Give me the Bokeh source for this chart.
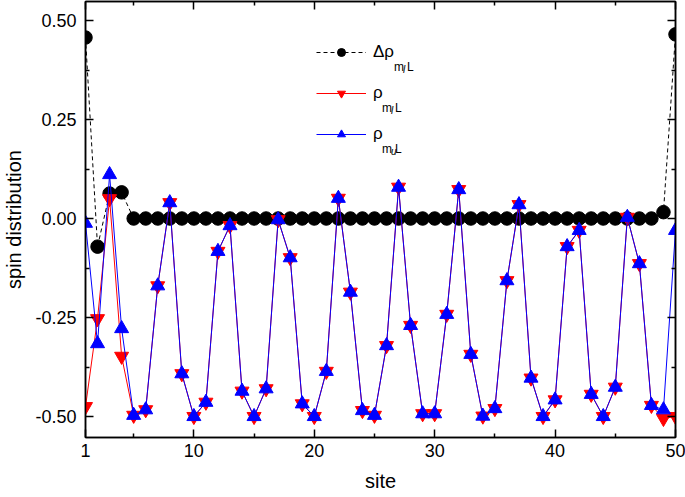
from bokeh.plotting import figure
from bokeh.models import (Range1d, LinearAxis, FixedTicker, Legend, LegendItem, Label)
from bokeh.embed import file_html
from bokeh.resources import INLINE

# ---- data ----
sites = list(range(1, 51))
delta_rho = [0.457, -0.071, 0.063, 0.066] + [0.0] * 44 + [0.016, 0.465]
rho_ml = [-0.475, -0.253, 0.050, -0.348, -0.497, -0.483, -0.170, 0.040, -0.392, -0.500,
          -0.464, -0.083, -0.018, -0.436, -0.500, -0.430, -0.003, -0.099, -0.468, -0.500,
          -0.386, 0.051, -0.186, -0.485, -0.497, -0.321, 0.079, -0.270, -0.493, -0.493,
          -0.242, 0.073, -0.343, -0.499, -0.480, -0.157, 0.035, -0.403, -0.500, -0.458,
          -0.071, -0.030, -0.444, -0.500, -0.426, 0.003, -0.114, -0.472, -0.505, -0.500]
rho_mu = [-0.012, -0.316, 0.111, -0.278, -0.497, -0.483, -0.170, 0.040, -0.392, -0.500,
          -0.464, -0.083, -0.018, -0.436, -0.500, -0.430, -0.003, -0.099, -0.468, -0.500,
          -0.386, 0.051, -0.186, -0.485, -0.497, -0.321, 0.079, -0.270, -0.493, -0.493,
          -0.242, 0.073, -0.343, -0.499, -0.480, -0.157, 0.035, -0.403, -0.500, -0.458,
          -0.071, -0.030, -0.444, -0.500, -0.426, 0.003, -0.114, -0.472, -0.483, -0.030]
x_ticks = [1, 10, 20, 30, 40, 50]
x_minor = [5, 15, 25, 35, 45]
y_ticks = [-0.5, -0.25, 0.0, 0.25, 0.5]
y_minor = [-0.375, -0.125, 0.125, 0.375]
y_labels = {-0.5: "-0.50", -0.25: "-0.25", 0.0: "0.00", 0.25: "0.25", 0.5: "0.50"}
legend_main = ["Δρ", "ρ", "ρ"]
legend_subsub = ["l", "l", "u"]

FONT = "Liberation Sans"
X0, X1 = 1, 50
Y0, Y1 = -0.553, 0.548

p = figure(width=685, height=497, output_backend="svg", toolbar_location=None,
           x_range=Range1d(X0, X1), y_range=Range1d(Y0, Y1),
           min_border_left=84, min_border_right=10, min_border_top=1, min_border_bottom=60,
           x_axis_label="site", y_axis_label="spin distribution")
p.grid.visible = False
p.outline_line_color = "black"
p.outline_line_width = 1.5

bottom_ax = p.below[0]
left_ax = p.left[0]
# extra mirror axes (ticks only)
top_ax = LinearAxis()
right_ax = LinearAxis()
p.add_layout(top_ax, "above")
p.add_layout(right_ax, "right")

for ax in [bottom_ax, top_ax]:
    ax.ticker = FixedTicker(ticks=x_ticks, minor_ticks=x_minor)
for ax in [left_ax, right_ax]:
    ax.ticker = FixedTicker(ticks=y_ticks, minor_ticks=y_minor)

for ax in [bottom_ax, left_ax, top_ax, right_ax]:
    ax.axis_line_color = "black"
    ax.axis_line_width = 1.5
    ax.major_tick_in = 8
    ax.major_tick_out = 0
    ax.minor_tick_in = 4
    ax.minor_tick_out = 0
    ax.major_tick_line_width = 1.5
    ax.minor_tick_line_width = 1.5
    ax.major_label_text_font = FONT
    ax.major_label_text_font_size = "18px"
    ax.major_label_text_color = "black"
    ax.axis_label_text_font = FONT
    ax.axis_label_text_font_size = "20px"
    ax.axis_label_text_font_style = "normal"
    ax.axis_label_text_color = "black"

top_ax.major_label_overrides = {t: "" for t in x_ticks}
right_ax.major_label_overrides = {t: "" for t in y_ticks}
for ax in [top_ax, right_ax]:
    ax.major_label_standoff = 0

left_ax.major_label_overrides = y_labels
left_ax.major_label_standoff = 9
left_ax.axis_label_standoff = 7
bottom_ax.major_label_standoff = 6
bottom_ax.axis_label_standoff = 10

# series
l1 = p.line(sites, delta_rho, line_color="black", line_width=1, line_dash="4 3")
s1 = p.scatter(sites, delta_rho, marker="circle", size=13.5, fill_color="black", line_color="black")
l2 = p.line(sites, rho_ml, line_color="#ff0000", line_width=1)
s2 = p.scatter(sites, rho_ml, marker="inverted_triangle", size=14, fill_color="#ff0000", line_color="#ff0000")
l3 = p.line(sites, rho_mu, line_color="#0000ff", line_width=1)
s3 = p.scatter(sites, rho_mu, marker="triangle", size=14, fill_color="#0000ff", line_color="#0000ff")

legend = Legend(items=[LegendItem(label=legend_main[0], renderers=[l1, s1]),
                       LegendItem(label=legend_main[1], renderers=[l2, s2]),
                       LegendItem(label=legend_main[2], renderers=[l3, s3])],
                location=(231, 293), glyph_width=50, glyph_height=20, label_height=20,
                spacing=21, padding=0, margin=0, border_line_alpha=0,
                background_fill_alpha=0, label_text_font=FONT, label_text_font_size="17px",
                label_standoff=7, label_text_color="black")
p.add_layout(legend, "center")


# subscripts of the legend texts, placed in pixel coords converted to data
def dx(px):
    return X0 + (px - 84) * (X1 - X0) / 591.0


def dy(py):
    return Y1 - (py - 1) * (Y1 - Y0) / 436.0


def lab(px, py, t, size, style="normal"):
    p.add_layout(Label(x=dx(px), y=dy(py), text=t, text_font=FONT, text_font_size=size,
                       text_font_style=style, text_baseline="alphabetic", text_align="left",
                       text_color="black"))


for base_y, main, sub2 in zip([56, 97, 138], legend_main, legend_subsub):
    xs = 372 + (21 if main == "Δρ" else 9)
    lab(xs, base_y + 10, "m", "12px")
    lab(xs + 9, base_y + 13, sub2, "10px", "italic")
    lab(xs + 13, base_y + 10, "L", "12px")

open("out.html", "w").write(file_html(p, INLINE))
